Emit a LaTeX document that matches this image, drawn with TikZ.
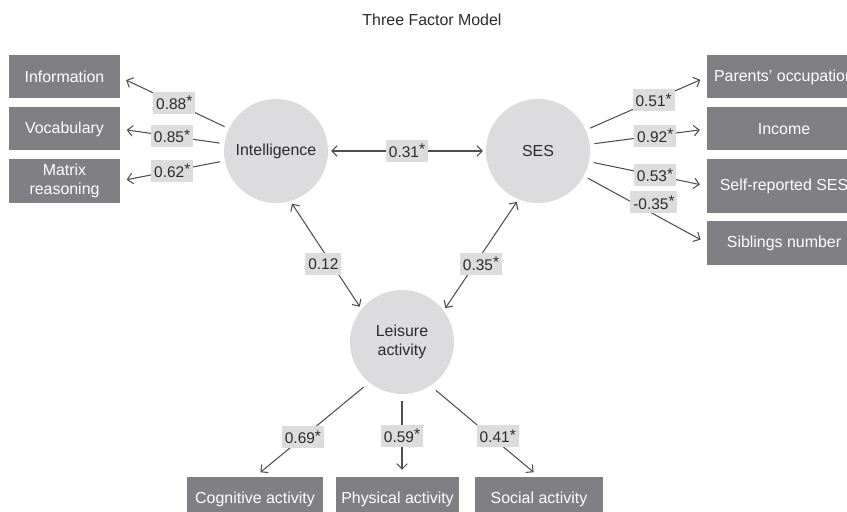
\documentclass[tikz,border=0pt]{standalone}
\usepackage{fontspec}
\setmainfont{Liberation Sans}
\usetikzlibrary{arrows.meta, positioning}
\definecolor{latentfill}{HTML}{DCDCDE}
\definecolor{indfill}{HTML}{808084}
\definecolor{coeffill}{HTML}{DCDCDC}
\definecolor{pathgray}{HTML}{4F4F4F}
\definecolor{textgray}{HTML}{2B2B2B}
\tikzset{
  latentbox/.style = {circle, draw=none, fill=latentfill},
  indbox/.style    = {draw=none, fill=indfill, text=white},
  coefbox/.style   = {draw=none, fill=coeffill, text=textgray},
}
\newcommand{\sig}{\raisebox{0.32ex}{*}}

\begin{document}
\begin{tikzpicture}[
            x=0.03cm, y=-0.03cm,
            >={Straight Barb[length=4.5pt, width=9pt]},
            every node/.style={font=\fontsize{13.6}{16}\selectfont},
            latent/.style={latentbox, minimum size=3.12cm, inner sep=0pt,
                    align=center, text=textgray},
            ind/.style   ={indbox, align=center, inner sep=2pt,
                    minimum height=1.29cm},
            coef/.style  ={coefbox, inner xsep=2.5pt, inner ysep=1pt,
                    minimum height=0.66cm, font=\fontsize{13.2}{15}\selectfont},
            load/.style  ={->, line width=0.9pt, draw=pathgray,
                    shorten <=4pt, shorten >=6pt},
            corr/.style  ={<->, line width=0.9pt, draw=pathgray,
                    shorten <=2.5pt, shorten >=2.5pt},
        ]
        \useasboundingbox (0,0) rectangle (847,512);

        \node[text=textgray] (title) at (432,20) {Three Factor Model};

        %% --- Latent factors -------------------------------------------------
        \node[latent] (intel) at (276,151) {Intelligence};
        \node[latent] (ses)   at (538,151) {SES};
        \node[latent] (leis)  at (402,342) {Leisure\\activity};

        %% --- Intelligence indicators (left) ---------------------------------
        \node[ind, minimum width=3.3cm] (info)   at (64.5,77)  {Information};
        \node[ind, minimum width=3.3cm] (vocab)  at (64.5,129) {Vocabulary};
        \node[ind, minimum width=3.3cm] (matrix) at (64.5,181) {Matrix\\reasoning};

        %% --- SES indicators (right, running off the page) -------------------
        \node[ind, minimum width=4.62cm] (parocc)  at (784,77)  {Parents' occupation};
        \node[ind, minimum width=4.62cm] (income)  at (784,129) {Income};
        \node[ind, minimum width=4.62cm, minimum height=1.62cm]
        (selfses) at (784,186) {Self-reported SES};
        \node[ind, minimum width=4.62cm] (sibl)    at (784,243) {Siblings number};

        %% --- Leisure indicators (bottom) ------------------------------------
        \node[ind, minimum width=4.08cm, minimum height=1.32cm] (cog)  at (255,499) {Cognitive activity};
        \node[ind, minimum width=3.69cm, minimum height=1.32cm] (phys) at (397.5,499) {Physical activity};
        \node[ind, minimum width=3.84cm, minimum height=1.32cm] (soc)  at (539,499) {Social activity};

        %% --- Loadings -------------------------------------------------------
        \draw[load] (intel) -- node[coef]{0.88\sig} (info.east);
        \draw[load] (intel) -- node[coef]{0.85\sig} (vocab.east);
        \draw[load] (intel) -- node[coef]{0.62\sig} (matrix.east);

        \draw[load] (ses) -- node[coef, pos=0.56]{0.51\sig} (parocc.west);
        \draw[load] (ses) -- node[coef, pos=0.56]{0.92\sig} (income.west);
        \draw[load] (ses) -- node[coef, pos=0.56]{0.53\sig} (selfses.west);
        \draw[load] (ses) -- node[coef, pos=0.57, yshift=10pt]{-0.35\sig} (sibl.west);

        \draw[load, shorten <=6pt] (leis.-129) -- node[coef, pos=0.58]{0.69\sig} (cog.north);
        \draw[load, shorten <=6pt] (leis.south) -- node[coef, pos=0.5]{0.59\sig} (leis.south |- phys.north);
        \draw[load, shorten <=6pt] (leis.-57) -- node[coef, pos=0.62, yshift=5pt]{0.41\sig} (soc.north);

        %% --- Factor correlations --------------------------------------------
        \draw[corr] (intel) -- node[coef]{0.31\sig} (ses);
        \draw[corr] (intel.-74) -- node[coef, pos=0.58, xshift=-7pt]{0.12} (leis.141);
        \draw[corr] (ses.-112) -- node[coef, pos=0.58, xshift=5pt]{0.35\sig} (leis.37);

    \end{tikzpicture}
\end{document}
